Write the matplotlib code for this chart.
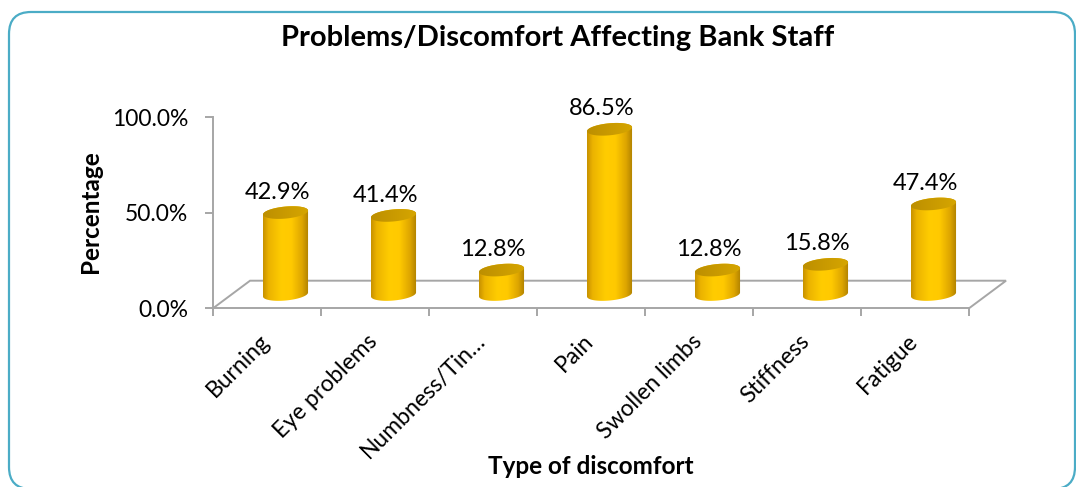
import numpy as np
import matplotlib
matplotlib.use('Agg')
import matplotlib.pyplot as plt
from matplotlib.patches import Polygon, FancyBboxPatch
from matplotlib.colors import LinearSegmentedColormap
from matplotlib.transforms import offset_copy

# ---------------- data ----------------
categories = ['Burning', 'Eye problems', 'Numbness/Tin…', 'Pain',
              'Swollen limbs', 'Stiffness', 'Fatigue']
values = [42.9, 41.4, 12.8, 86.5, 12.8, 15.8, 47.4]
value_labels = ['42.9%', '41.4%', '12.8%', '86.5%', '12.8%', '15.8%', '47.4%']
yticks = [0, 50, 100]
ytick_labels = ['0.0%', '50.0%', '100.0%']
title = 'Problems/Discomfort Affecting Bank Staff'
xlabel = 'Type of discomfort'
ylabel = 'Percentage'

# ---------------- style ----------------
plt.rcParams['font.family'] = ['Lato', 'DejaVu Sans']
W, H = 1076, 487
GRAY = '#a6a6a6'
FS_TICK = 16.5
FS_DATA = 17
FS_CAT = 16.5

fig = plt.figure(figsize=(W / 100, H / 100), dpi=100)
ax = fig.add_axes([213 / W, (H - 308.3) / H, 756 / W, 191 / H])
ax.patch.set_alpha(0)

n = len(categories)
# 3D-floor depth offsets (category units, percent units)
DXB, DYB = 0.343, 14.45          # back edge of floor
DX, DY = DXB / 2, DYB / 2        # bars stand mid-depth
BAR_W = 0.417
ELL_H = 6.3
SHEAR = 5.0

gold = LinearSegmentedColormap.from_list('gold', [
    (0.00, (0.78, 0.57, 0.00)),
    (0.12, (0.92, 0.70, 0.00)),
    (0.40, (1.00, 0.80, 0.00)),
    (0.62, (1.00, 0.79, 0.00)),
    (0.85, (0.87, 0.65, 0.00)),
    (1.00, (0.68, 0.50, 0.00)),
])
capmap = LinearSegmentedColormap.from_list('cap', [
    (0.0, (0.74, 0.56, 0.00)),
    (1.0, (0.84, 0.65, 0.00)),
])

# floor
ax.plot([0, DXB, n + DXB, n], [0, DYB, DYB, 0], color=GRAY, lw=1.4,
        clip_on=False, zorder=1, solid_joinstyle='miter')

grad = np.linspace(0, 1, 256).reshape(1, -1)


def ellipse_pts(xc, yc, t):
    a = BAR_W / 2
    b = ELL_H / 2
    return xc + a * np.cos(t), yc + b * np.sin(t) + SHEAR * a * np.cos(t)


for i, v in enumerate(values):
    xc = i + 0.5 + DX
    base = DY
    top = DY + v
    a = BAR_W / 2
    t1 = np.linspace(np.pi, 2 * np.pi, 80)
    t2 = np.linspace(0, np.pi, 80)
    bx, by = ellipse_pts(xc, base, t1)
    tx, ty = ellipse_pts(xc, top, t2)
    body = Polygon(np.column_stack([np.r_[bx, tx], np.r_[by, ty]]),
                   closed=True, facecolor='none', edgecolor='none')
    ax.add_patch(body)
    ylo = base - ELL_H
    yhi = top + ELL_H
    im = ax.imshow(grad, cmap=gold, extent=[xc - a, xc + a, ylo, yhi],
                   aspect='auto', zorder=3, interpolation='bilinear')
    im.set_clip_path(body)
    tt = np.linspace(0, 2 * np.pi, 160)
    cx, cy = ellipse_pts(xc, top, tt)
    cap = Polygon(np.column_stack([cx, cy]), closed=True,
                  facecolor='none', edgecolor='none')
    ax.add_patch(cap)
    im2 = ax.imshow(grad, cmap=capmap, extent=[xc - a, xc + a, top - ELL_H, top + ELL_H],
                    aspect='auto', zorder=4, interpolation='bilinear')
    im2.set_clip_path(cap)
    ax.annotate(value_labels[i], (xc, top), xytext=(-6, 10), textcoords='offset points',
                ha='center', va='baseline', fontsize=FS_DATA, color='black', zorder=5)

ax.set_xlim(0, n)
ax.set_ylim(0, 100)

for s in ['top', 'right']:
    ax.spines[s].set_visible(False)
for s in ['left', 'bottom']:
    ax.spines[s].set_color(GRAY)
    ax.spines[s].set_linewidth(1.4)

ax.set_yticks(yticks)
ax.set_yticklabels(ytick_labels, fontsize=FS_TICK)
ax.set_xticks(np.arange(n + 1))
ax.set_xticklabels([])
ax.tick_params(axis='both', direction='out', length=6, width=1.4, color=GRAY)
ax.tick_params(axis='y', pad=12)

# category labels
lab_tr = offset_copy(ax.transData, fig=fig, x=-8, y=-22, units='dots')
for i, c in enumerate(categories):
    ax.text(i + 0.5, 0, c, transform=lab_tr, rotation=45, rotation_mode='anchor',
            ha='right', va='top', fontsize=FS_CAT, clip_on=False)

fig.text(558 / W, 1 - 38 / H, title, ha='center', va='center',
         fontsize=21, fontweight='bold')
fig.text(591 / W, 1 - 466 / H, xlabel, ha='center', va='center',
         fontsize=17.5, fontweight='bold')
fig.text(90 / W, 1 - 212 / H, ylabel, ha='center', va='center', rotation=90,
         fontsize=17.5, fontweight='bold')

r = 22
border = FancyBboxPatch((9 / W, 1 - 489 / H), (1075 - 9) / W, (489 - 12) / H,
                        boxstyle='round,pad=0,rounding_size=%f' % (r / W),
                        transform=fig.transFigure, facecolor='none',
                        edgecolor='#4bacc6', lw=1.6, clip_on=False,
                        mutation_aspect=W / H)
fig.patches.append(border)

fig.savefig('out.png', dpi=100)
